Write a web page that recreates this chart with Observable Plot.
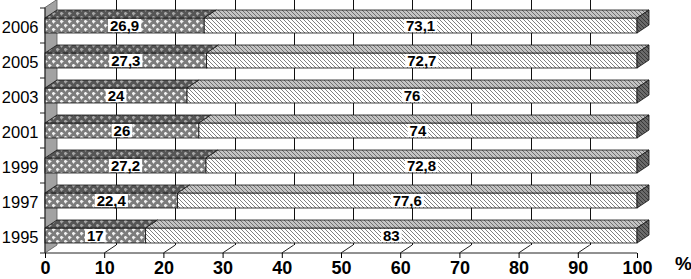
<!DOCTYPE html>
<html><head><meta charset="utf-8">
<script src="https://cdn.jsdelivr.net/npm/d3@7"></script>
<script src="https://cdn.jsdelivr.net/npm/@observablehq/plot@0.6"></script>
<style>body{margin:0;background:#fff}svg{display:block}</style>
</head><body><div id="chart"></div>
<script>
// ---- data ----
const years = ["2006", "2005", "2003", "2001", "1999", "1997", "1995"];
const part1 = [26.9, 27.3, 24, 26, 27.2, 22.4, 17];
const part2 = [73.1, 72.7, 76, 74, 72.8, 77.6, 83];
const xTicks = [0, 10, 20, 30, 40, 50, 60, 70, 80, 90, 100];
const gridTicks = [10, 20, 30, 40, 50, 60, 70, 80, 90];
const unitLabel = "%";

// ---- derived tables ----
const segsA = years.map((year, i) => ({year, x1: 0, x2: part1[i], v: part1[i], k: "a"}));
const segsB = years.map((year, i) => ({year, x1: part1[i], x2: part1[i] + part2[i], v: part2[i], k: "b"}));
const segs = segsA.concat(segsB);

const FONT = "'Liberation Sans', Arial, sans-serif";
const DX = 12, DY = 8, INSET = 10;

function bw(y) {
  if (typeof y.bandwidth === "function") return y.bandwidth();
  return Math.abs(y(years[1]) - y(years[0]));
}
const crisp = v => Math.round(v) + 0.5;

// pattern definitions
function defsMark() {
  const g = d3.create("svg:g");
  const defs = g.append("defs");
  function checker(id, bg, fg, mid) {
    const p = defs.append("pattern").attr("id", id).attr("width", 8).attr("height", 8)
      .attr("patternUnits", "userSpaceOnUse");
    p.append("rect").attr("width", 8).attr("height", 8).attr("fill", bg);
    const light = [[1,0],[0,1],[2,1],[1,2],[1,1],[5,4],[4,5],[6,5],[5,6],[5,5]];
    const half = [[0,0],[2,0],[0,2],[2,2],[4,4],[6,4],[4,6],[6,6],[3,1],[1,3],[7,5],[5,7]];
    for (const [a, b] of half) p.append("rect").attr("x", a).attr("y", b).attr("width", 1).attr("height", 1).attr("fill", mid);
    for (const [a, b] of light) p.append("rect").attr("x", a).attr("y", b).attr("width", 1).attr("height", 1).attr("fill", fg);
  }
  function hatch(id, bg, fg, w) {
    const p = defs.append("pattern").attr("id", id).attr("width", 4).attr("height", 4)
      .attr("patternUnits", "userSpaceOnUse");
    p.append("rect").attr("width", 4).attr("height", 4).attr("fill", bg);
    p.append("path").attr("d", "M0,0L4,4M-1,3L1,5M3,-1L5,1").attr("stroke", fg).attr("stroke-width", w);
  }
  checker("pA", "#7c7c7c", "#f0f0f0", "#b4b4b4");
  checker("pAt", "#555555", "#a8a8a8", "#7e7e7e");
  hatch("pB", "#ffffff", "#808080", 1);
  hatch("pBt", "#c4c4c4", "#707070", 1);
  hatch("pCap", "#6a6a6a", "#383838", 1);
  return g.node();
}

// left wall, grid, floor
function backMark(index, scales, values, dims) {
  const x = scales.x;
  const top = dims.marginTop, bottom = dims.height - dims.marginBottom;
  const x0 = x(0);
  const g = d3.create("svg:g");
  g.append("path")
    .attr("d", `M${x0},${bottom}L${x0},${top}L${x0 + DX},${top - DY}L${x0 + DX},${bottom - DY}Z`)
    .attr("fill", "#a2a2a2").attr("stroke", "#555").attr("stroke-width", 0.8);
  for (const v of gridTicks) {
    const gx = crisp(x(v) + DX);
    g.append("line").attr("x1", gx).attr("x2", gx)
      .attr("y1", top - DY).attr("y2", bottom - DY).attr("stroke", "#111").attr("stroke-width", 1);
    g.append("line").attr("x1", x(v)).attr("y1", bottom)
      .attr("x2", x(v) + DX).attr("y2", bottom - DY).attr("stroke", "#222").attr("stroke-width", 1);
  }
  return g.node();
}

// top faces and end caps
function topMark(index, scales, values, dims) {
  const x = scales.x, y = scales.y;
  const h = bw(y) - 2 * INSET;
  const g = d3.create("svg:g");
  for (const s of segs) {
    const X1 = x(s.x1), X2 = x(s.x2), Y0 = y(s.year) + INSET;
    g.append("path")
      .attr("d", `M${X1},${Y0}L${X1 + DX},${Y0 - DY}L${X2 + DX},${Y0 - DY}L${X2},${Y0}Z`)
      .attr("fill", s.k === "a" ? "url(#pAt)" : "url(#pBt)")
      .attr("stroke", "#111").attr("stroke-width", 0.8);
    if (s.k === "b") {
      g.append("path")
        .attr("d", `M${X2},${Y0}L${X2 + DX},${Y0 - DY}L${X2 + DX},${Y0 + h - DY}L${X2},${Y0 + h}Z`)
        .attr("fill", "url(#pCap)").attr("stroke", "#111").attr("stroke-width", 0.8);
    }
  }
  return g.node();
}

// value labels with white boxes
const measureCtx = document.createElement("canvas").getContext("2d");
function labelMark(index, scales, values, dims) {
  const x = scales.x, y = scales.y;
  const h = bw(y) - 2 * INSET;
  measureCtx.font = `bold 15px ${FONT}`;
  const g = d3.create("svg:g");
  for (const s of segs) {
    const txt = String(s.v).replace(".", ",");
    const w = measureCtx.measureText(txt).width;
    const cx = (x(s.x1) + x(s.x2)) / 2;
    const Y0 = y(s.year) + INSET;
    g.append("rect").attr("x", cx - w / 2 - 2).attr("y", Y0 + 1).attr("width", w + 4).attr("height", h - 2)
      .attr("fill", "#fff");
    g.append("text").attr("x", cx).attr("y", Y0 + h / 2 + 0.5).attr("dy", "0.36em")
      .attr("text-anchor", "middle").attr("font-family", FONT).attr("font-weight", "bold")
      .attr("font-size", 15).attr("fill", "#000").text(txt);
  }
  return g.node();
}

// axis lines and ticks
function axisLines(index, scales, values, dims) {
  const x = scales.x, y = scales.y;
  const top = dims.marginTop, bottom = dims.height - dims.marginBottom;
  const g = d3.create("svg:g").attr("stroke", "#222").attr("stroke-width", 1);
  g.append("line").attr("x1", x(0)).attr("x2", x(100)).attr("y1", bottom).attr("y2", bottom);
  g.append("line").attr("x1", x(0)).attr("x2", x(0)).attr("y1", top).attr("y2", bottom);
  for (const yr of years) {
    g.append("line").attr("x1", x(0) - 5).attr("x2", x(0)).attr("y1", y(yr)).attr("y2", y(yr));
  }
  g.append("line").attr("x1", x(0) - 5).attr("x2", x(0)).attr("y1", bottom).attr("y2", bottom);
  return g.node();
}

const chart = Plot.plot({
  width: 691,
  height: 279,
  marginLeft: 45,
  marginRight: 54,
  marginTop: 7.5,
  marginBottom: 26,
  style: {fontFamily: FONT, background: "#fff", color: "#000", overflow: "visible"},
  x: {domain: [0, 100], axis: null},
  y: {domain: years, padding: 0, axis: null},
  marks: [
    defsMark,
    backMark,
    Plot.barX(segsA, {x1: "x1", x2: "x2", y: "year", insetTop: INSET, insetBottom: INSET, fill: "url(#pA)", stroke: "#111", strokeWidth: 0.8}),
    Plot.barX(segsB, {x1: "x1", x2: "x2", y: "year", insetTop: INSET, insetBottom: INSET, fill: "url(#pB)", stroke: "#111", strokeWidth: 0.8}),
    topMark,
    labelMark,
    axisLines,
    Plot.axisX({ticks: xTicks, tickSize: 5, tickPadding: 3, fontSize: 18, fontWeight: "bold", tickFormat: d => String(d), label: null}),
    Plot.axisY({tickSize: 0, tickPadding: 7, fontSize: 16.5, dy: 2, label: null}),
    Plot.text([unitLabel], {frameAnchor: "bottom-right", dx: 46, dy: 16, text: d => d, fontSize: 19, fontWeight: "bold", textAnchor: "middle"})
  ]
});
document.getElementById("chart").appendChild(chart);
</script>
</body></html>
